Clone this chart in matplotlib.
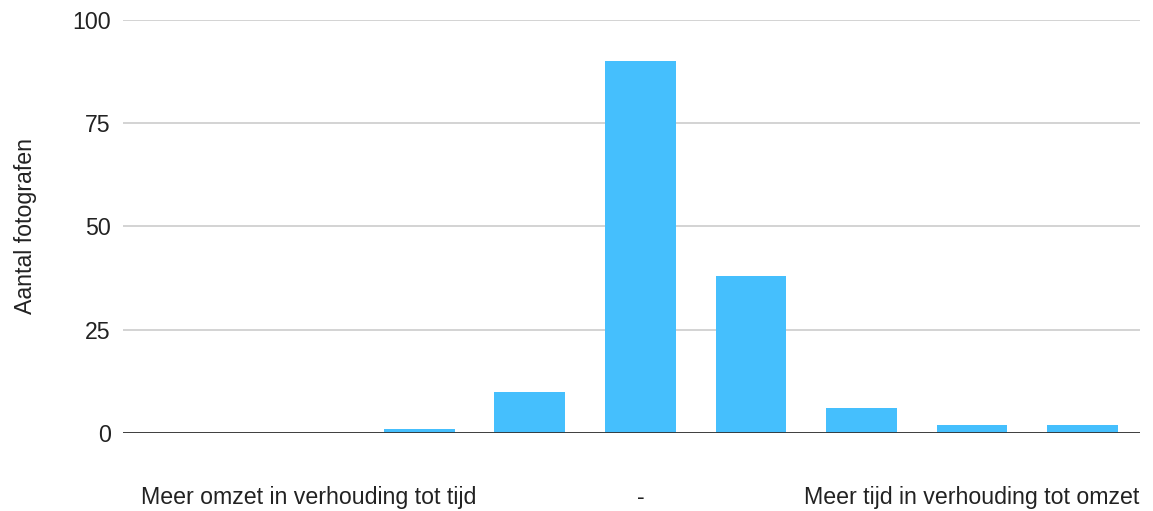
import numpy as np
import matplotlib.pyplot as plt

# survey answers on a 1-9 scale
schaal = [1, 2, 3, 4, 5, 6, 7, 8, 9]
aantal = [0, 0, 1, 10, 90, 38, 6, 2, 2]
labels = ["", "Meer omzet in verhouding tot tijd", "", "", "-", "", "",
          "Meer tijd in verhouding tot omzet", ""]

plt.rcParams['font.family'] = ['Liberation Sans', 'DejaVu Sans']

fig = plt.figure(figsize=(11.53, 5.11), dpi=100)
ax = fig.add_axes([0.1067, 0.1526, 0.882, 0.8084])

x = np.arange(len(schaal))
ax.bar(x, aantal, width=0.64, color='#45bffd', zorder=3)

ax.set_ylim(0, 100)
ax.set_yticks([0, 25, 50, 75, 100])
ax.set_xlim(-0.68, 8.52)
ax.set_xticks(x)
ax.set_xticklabels(labels)

ax.grid(axis='y', color='#cccccc', linewidth=1.2, zorder=0)
ax.axhline(0, color='#333333', linewidth=1.3, zorder=4)
for s in ax.spines.values():
    s.set_visible(False)
ax.tick_params(axis='both', length=0, labelsize=16.7, colors='#222222')
ax.tick_params(axis='y', pad=9)
ax.tick_params(axis='x', pad=38)
ax.set_ylabel('Aantal fotografen', fontsize=16.7, color='#222222')
ax.yaxis.set_label_coords(-0.085, 0.5)

fig.savefig('out.png', dpi=100)
